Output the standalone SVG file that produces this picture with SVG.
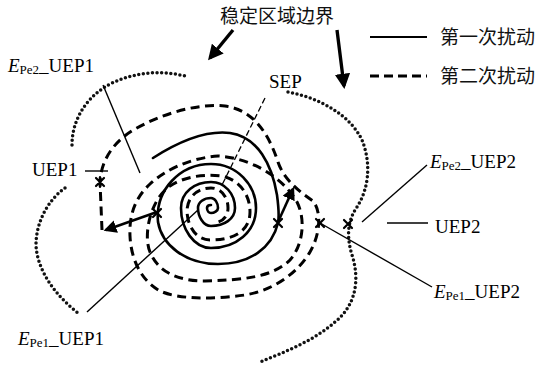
<svg xmlns="http://www.w3.org/2000/svg" width="540" height="365" viewBox="0 0 540 365">
<defs>
<style>
.lbl{font-family:"Liberation Serif","Times New Roman",serif;font-size:19px;fill:#000}
.sub{font-size:13px}
.cjk{font-family:"Noto Sans CJK SC","Noto Sans",sans-serif;font-size:19px;fill:#111}
.dot{fill:none;stroke:#111;stroke-width:3.5;stroke-linecap:round;stroke-dasharray:0 4.6}
.solid{fill:none;stroke:#000;stroke-width:2.6;stroke-linecap:round}
.dash{fill:none;stroke:#000;stroke-width:3;stroke-dasharray:9 5.5}
.lead{fill:none;stroke:#000;stroke-width:1.4}
.xm{stroke:#000;stroke-width:2.2;stroke-linecap:round}
.arr{fill:none;stroke:#000;stroke-width:2.6}
.thick{fill:none;stroke:#000;stroke-width:3.4}
</style>
<marker id="ah" viewBox="0 0 10 10" refX="8" refY="5" markerWidth="5" markerHeight="5" orient="auto" markerUnits="strokeWidth">
<path d="M0,0 L10,5 L0,10 Z" fill="#000"/>
</marker>
<marker id="ah2" viewBox="0 0 10 10" refX="8" refY="5" markerWidth="4.5" markerHeight="4.5" orient="auto" markerUnits="strokeWidth">
<path d="M0,0 L10,5 L0,10 Z" fill="#000"/>
</marker>
</defs>
<rect width="540" height="365" fill="#fff"/>

<g id="connectors">
<path class="dot" d="M72,145 C72,118 88,96 110,84 C135,72 160,70 185,76"/>
<path class="dot" d="M65,188 C48,200 36,222 36,245 C37,270 55,295 78,313"/>
<path class="dot" d="M288,92 C320,98 350,115 362,140 C372,165 368,190 357,207 C348,220 346,235 352,255 C360,280 356,305 335,322 C315,340 285,352 260,362"/>

<path class="solid" d="M153,158 C178,142 205,130 230,133 C258,137 272,165 277,195 C279,210 279,218 278,223 C272,248 250,264 218,264 C185,264 162,245 158,222 C155,190 180,164 211,164 C237,164 256,185 256,208 C256,232 236,248 211,248 C194,248 181,229 181,208 C181,192 195,182 211,182 C225,182 235,194 235,208 C235,219 224,226 211,226 C203,226 198,216 198,208 C198,202 204,198 211,198 C215,198 218,203 218,208 C218,211 214,213 211,213 C209,213 207,211 207,208 C207,206 209,205 211,205"/>

<path class="dash" d="M102,230 L100,182 C101,160 114,141 135,129 C160,115 195,103 225,106 C253,110 268,132 278,162 C284,180 300,192 313,201 C322,212 320,235 310,252 C298,272 275,290 245,295 C215,299 180,300 160,291 C140,280 131,258 130,236 C129,215 135,198 150,184 C165,170 190,158 218,156 C250,158 282,176 297,202 C306,220 303,245 290,260 C272,278 240,280 205,281 C178,281 158,272 150,252 C143,235 150,200 170,186 C185,176 205,174 222,176 C240,180 250,195 250,212 C250,232 232,240 211,240 C195,240 187,225 187,210 C188,196 198,188 211,188 C222,188 228,198 228,208 C228,217 222,222 214,223"/>

<path d="M265,98 L222,185" fill="none" stroke="#000" stroke-width="1.3" stroke-dasharray="6 3"/>

<path class="arr" d="M157,212 L106,230" marker-end="url(#ah)"/>
<path class="arr" d="M278,222 L293,189" marker-end="url(#ah)"/>

<path class="thick" d="M233,30 L210,58" marker-end="url(#ah2)"/>
<path class="thick" d="M337,30 L344,86" marker-end="url(#ah2)"/>

<path class="lead" d="M103,85 L140,173"/>
<path class="lead" d="M85,171 L108,171"/>
<path class="lead" d="M87,312 L198,210"/>
<path class="lead" d="M427,165 L362,222"/>
<path class="lead" d="M387,223 L428,223"/>
<path class="lead" d="M320,223 L432,287"/>

<path d="M370,37 L427,37" fill="none" stroke="#000" stroke-width="2"/>
<path d="M370,76 L427,76" fill="none" stroke="#000" stroke-width="3" stroke-dasharray="9 5"/>
</g>

<g id="markers">
<path class="xm" d="M96,178 L104,186 M104,178 L96,186 M100,177 L100,187"/>
<path class="xm" d="M153,209 L161,217 M161,209 L153,217"/>
<path class="xm" d="M274,219 L282,227 M282,219 L274,227"/>
<path class="xm" d="M316,219 L324,227 M324,219 L316,227"/>
<path class="xm" d="M344,220 L352,228 M352,220 L344,228"/>
</g>

<g id="node-boundary"><text class="cjk" x="220" y="23">稳定区域边界</text></g>
<g id="node-legend1"><text class="cjk" x="440" y="44">第一次扰动</text></g>
<g id="node-legend2"><text class="cjk" x="440" y="83">第二次扰动</text></g>
<g id="node-epe2-uep1"><text class="lbl" x="8" y="72"><tspan font-style="italic">E</tspan><tspan class="sub" dy="2">Pe2</tspan><tspan dy="-2">_UEP1</tspan></text></g>
<g id="node-uep1"><text class="lbl" x="32" y="176">UEP1</text></g>
<g id="node-sep"><text class="lbl" x="269" y="88">SEP</text></g>
<g id="node-epe2-uep2"><text class="lbl" x="430" y="168"><tspan font-style="italic">E</tspan><tspan class="sub" dy="2">Pe2</tspan><tspan dy="-2">_UEP2</tspan></text></g>
<g id="node-uep2"><text class="lbl" x="435" y="233">UEP2</text></g>
<g id="node-epe1-uep2"><text class="lbl" x="434" y="298"><tspan font-style="italic">E</tspan><tspan class="sub" dy="2">Pe1</tspan><tspan dy="-2">_UEP2</tspan></text></g>
<g id="node-epe1-uep1"><text class="lbl" x="18" y="345"><tspan font-style="italic">E</tspan><tspan class="sub" dy="2">Pe1</tspan><tspan dy="-2">_UEP1</tspan></text></g>
</svg>
